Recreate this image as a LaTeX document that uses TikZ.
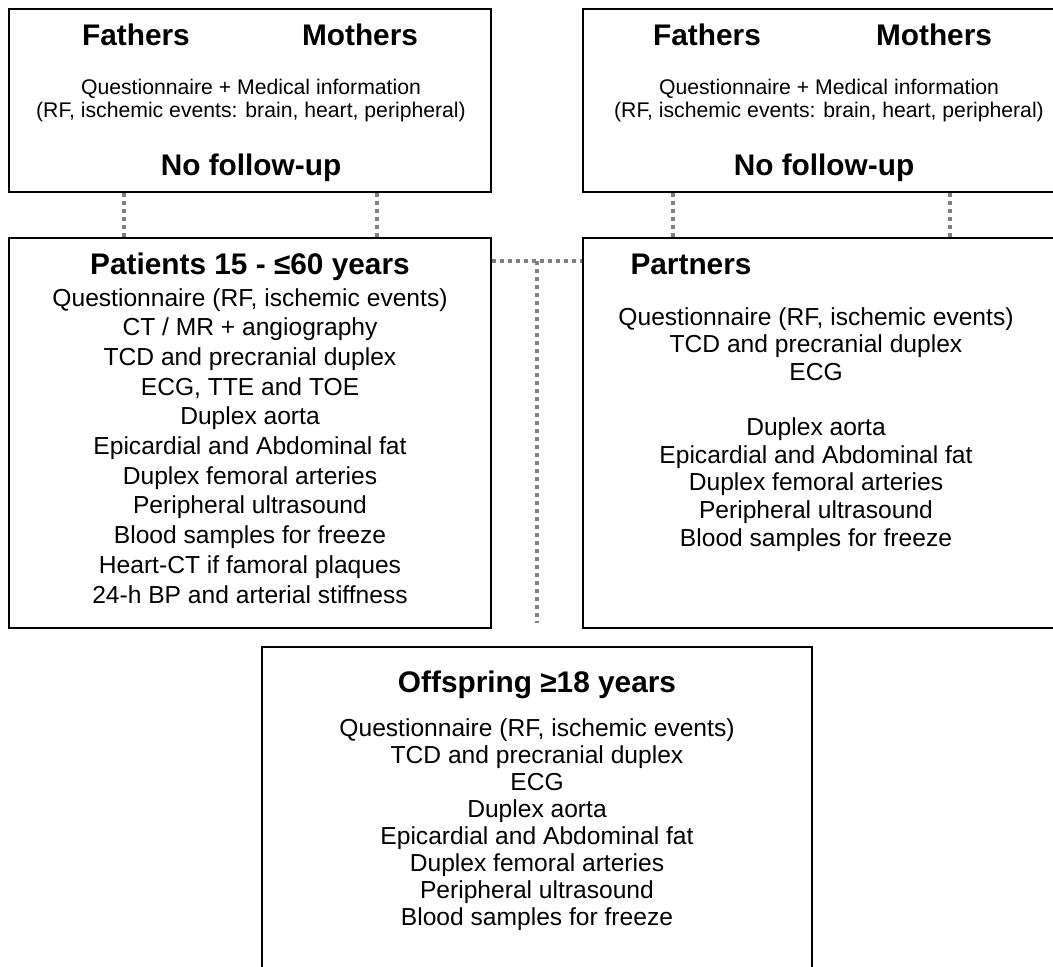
\documentclass[tikz,border=0pt]{standalone}
\usepackage{fontspec}
\setmainfont{Liberation Sans}
\usetikzlibrary{positioning,calc}

\begin{document}
\begin{tikzpicture}[x=1pt, y=-1pt,
    box/.style={draw, line width=2pt, inner sep=0pt},
    head/.style={font=\fontsize{29.8}{34}\selectfont\bfseries, anchor=base, inner sep=0pt},
    info/.style={font=\fontsize{21.2}{23}\selectfont, align=center, anchor=base, inner sep=0pt},
    items/.style={font=\fontsize{24.6}{#1}\selectfont, align=center, anchor=base, inner sep=0pt},
    link/.style={draw=gray, line width=3.5pt, dash pattern=on 3.5pt off 4.5pt},
]
    \useasboundingbox (0,0) rectangle (1053,967);
    \clip (0,0) rectangle (1053,967);

    % boxes
    \node[box, minimum width=482pt, minimum height=183pt] (famL) at (250,100.5) {};
    \node[box, minimum width=482pt, minimum height=183pt] (famR) at (824,100.5) {};
    \node[box, minimum width=482pt, minimum height=390pt] (pat) at (250,433) {};
    \node[box, minimum width=482pt, minimum height=390pt] (par) at (824,433) {};
    \node[box, minimum width=550pt, minimum height=353pt] (off) at (537,823.5) {};

    % parents (base = last line)
    \node[head] (fathL) at (136,45) {Fathers};
    \node[head] (mothL) at (360,45) {Mothers};
    \node[info] (infoL) at (251,117) {Questionnaire + Medical information\\(RF, ischemic events: brain, heart, peripheral)};
    \node[head] (nofuL) at (251,175) {No follow-up};

    \node[head] (fathR) at (707,45) {Fathers};
    \node[head] (mothR) at (934,45) {Mothers};
    \node[info] (infoR) at (829,117) {Questionnaire + Medical information\\(RF, ischemic events: brain, heart, peripheral)};
    \node[head] (nofuR) at (824,175) {No follow-up};

    % patients and partners
    \node[head] (patT) at (250,274) {Patients 15 - ≤60 years};
    \node[items=29.7] (patI) at (250,603) {Questionnaire (RF, ischemic events)\\CT / MR + angiography\\TCD and precranial duplex\\ECG, TTE and TOE\\Duplex aorta\\Epicardial and Abdominal fat\\Duplex femoral arteries\\Peripheral ultrasound\\Blood samples for freeze\\Heart-CT if famoral plaques\\24-h BP and arterial stiffness};

    \node[head] (parT) at (691,274) {Partners};
    \node[items=27.6] (parI) at (816,546) {Questionnaire (RF, ischemic events)\\TCD and precranial duplex\\ECG\\[27.6pt]Duplex aorta\\Epicardial and Abdominal fat\\Duplex femoral arteries\\Peripheral ultrasound\\Blood samples for freeze};

    % offspring
    \node[head] (offT) at (537,692) {Offspring ≥18 years};
    \node[items=27] (offI) at (537,925) {Questionnaire (RF, ischemic events)\\TCD and precranial duplex\\ECG\\Duplex aorta\\Epicardial and Abdominal fat\\Duplex femoral arteries\\Peripheral ultrasound\\Blood samples for freeze};

    % links
    \coordinate (mid) at (537,261);
    \coordinate (midend) at (537,623);
    \draw[link] ([xshift=-126pt]famL.south) -- ([xshift=-126pt]pat.north);
    \draw[link] ([xshift=127pt]famL.south) -- ([xshift=127pt]pat.north);
    \draw[link] ([xshift=-151pt]famR.south) -- ([xshift=-151pt]par.north);
    \draw[link] ([xshift=126pt]famR.south) -- ([xshift=126pt]par.north);
    \draw[link] (pat.east |- mid) -- (par.west |- mid);
    \draw[link] (mid) -- (midend);
\end{tikzpicture}
\end{document}
